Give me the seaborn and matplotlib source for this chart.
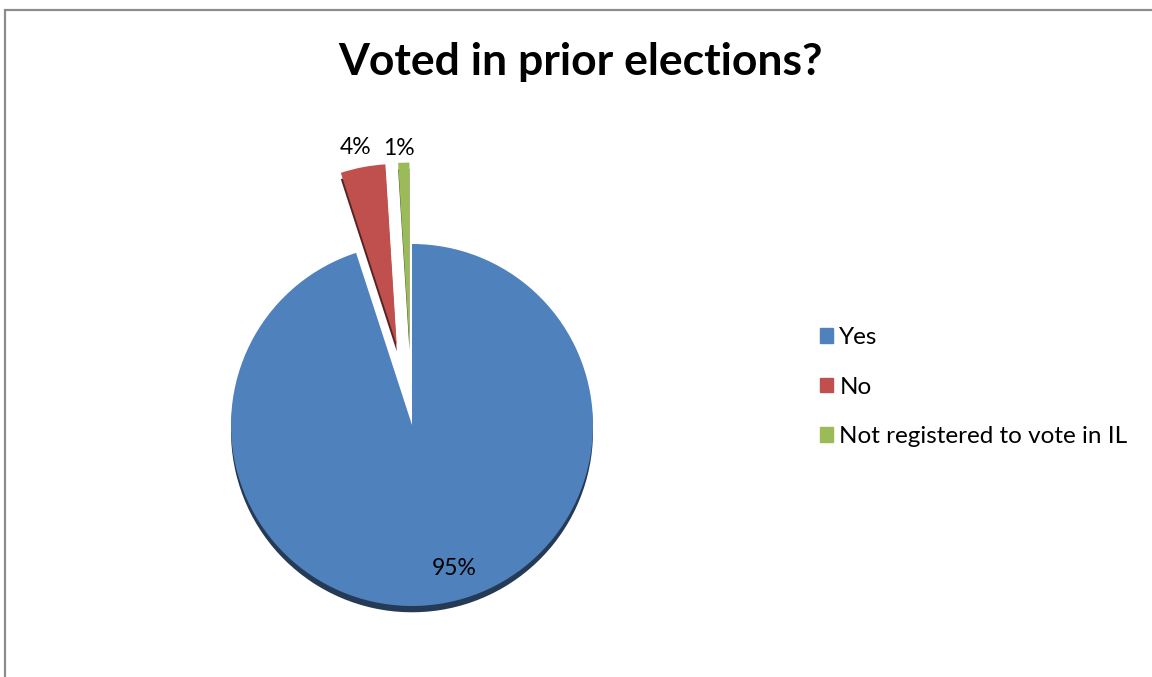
import matplotlib
matplotlib.use('Agg')
import matplotlib.pyplot as plt
import matplotlib.patches as mpatches
import numpy as np
import seaborn as sns

# Chart data
title = 'Voted in prior elections?'
categories = ['Yes', 'No', 'Not registered to vote in IL']
shares = [95, 4, 1]
pct_labels = ['95%', '4%', '1%']
colors = ['#4F81BD', '#C0504D', '#9BBB59']

sns.set_theme(style='white')
plt.rcParams['font.family'] = ['Lato', 'DejaVu Sans']
plt.rcParams['text.color'] = 'black'

W, H = 1152, 677
fig = plt.figure(figsize=(W / 100, H / 100), dpi=100)

# pie centre / radius in pixels
cx, cy, r_px = 412, 677 - 425, 181
half = 1.6
ax = fig.add_axes([(cx - half * r_px) / W, (cy - half * r_px) / H,
                   2 * half * r_px / W, 2 * half * r_px / H])

wedges, _ = ax.pie(shares, colors=colors, startangle=90, counterclock=False,
                   explode=[0, 0.45, 0.45],
                   shadow={'ox': 0.0, 'oy': -0.025, 'shade': 0.55, 'alpha': 1},
                   wedgeprops=dict(linewidth=0))
ax.set_xlim(-half, half)
ax.set_ylim(-half, half)
ax.set_aspect('equal')
ax.axis('off')

# data labels: inside for the big slice, outside for the exploded ones
label_dist = [0.8, 1.11, 1.08]
label_shift = [20, -4, -4]  # small horizontal nudges, in points
for w, txt, dist, dx in zip(wedges, pct_labels, label_dist, label_shift):
    mid = np.deg2rad((w.theta1 + w.theta2) / 2)
    x0, y0 = w.center
    ax.annotate(txt, (x0 + dist * np.cos(mid), y0 + dist * np.sin(mid)),
                xytext=(dx * 0.72, 0), textcoords='offset points',
                ha='center', va='center', fontsize=16.5, color='black')

fig.text(580 / W, 1 - 62 / H, title, ha='center', va='center',
         fontsize=32, fontweight='bold', color='black')

handles = [mpatches.Patch(color=c, label=l) for c, l in zip(colors, categories)]
fig.legend(handles=handles, loc='center left',
           bbox_to_anchor=(798 / W, 1 - 387 / H), frameon=False,
           fontsize=17.5, handlelength=0.55, handleheight=0.55,
           handletextpad=0.25, labelspacing=1.18)

# chart frame (only top and left edges are visible in the crop)
fig.patches.append(mpatches.Rectangle((5 / W, -0.1), 1.2, 1.1 - 10 / H,
                                      transform=fig.transFigure, fill=False,
                                      edgecolor='#8c8c8c', linewidth=1.6))

fig.savefig('out.png', dpi=100)
